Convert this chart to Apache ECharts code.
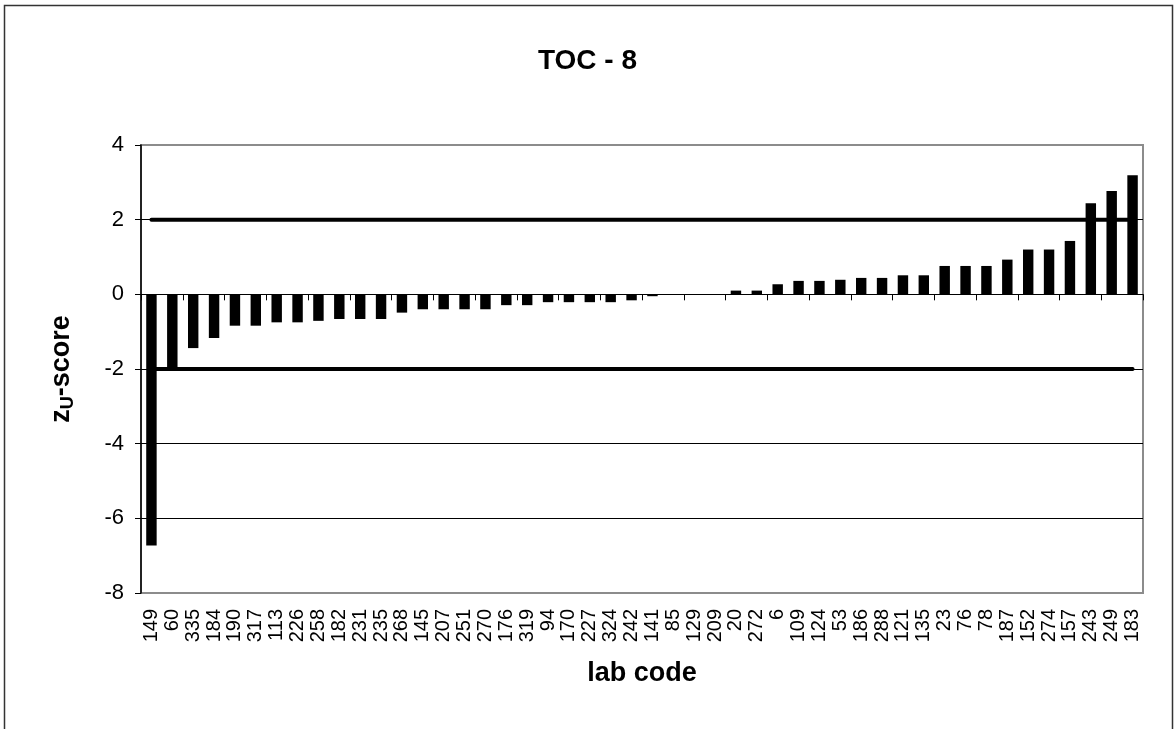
<!DOCTYPE html>
<html>
<head>
<meta charset="utf-8">
<script src="https://cdn.jsdelivr.net/npm/echarts@6/dist/echarts.min.js"></script>
<style>
html,body{margin:0;padding:0;background:#fff;}
#chart{width:1175px;height:729px;}
</style>
</head>
<body>
<div id="chart"></div>
<script>
var title = 'TOC - 8';
var labCodes = ['149','60','335','184','190','317','113','226','258','182','231','235','268','145','207','251','270','176','319','94','170','227','324','242','141','85','129','209','20','272','6','109','124','53','186','288','121','135','23','76','78','187','152','274','157','243','249','183'];
var zScores = [-6.73,-2.0,-1.44,-1.17,-0.84,-0.84,-0.75,-0.75,-0.71,-0.66,-0.66,-0.66,-0.49,-0.40,-0.40,-0.40,-0.40,-0.29,-0.29,-0.21,-0.21,-0.21,-0.21,-0.16,-0.05,0,0,0,0.10,0.10,0.27,0.36,0.36,0.39,0.44,0.44,0.51,0.51,0.76,0.76,0.76,0.93,1.20,1.20,1.43,2.44,2.77,3.19];
var upperLimit = 2;
var lowerLimit = -2;
var yMin = -8, yMax = 4, yStep = 2;
var gridLineValues = [-6, -4, -2, 0, 2];

var FONT = 'Arial, "Liberation Sans", sans-serif';
var chart = echarts.init(document.getElementById('chart'), null, {renderer: 'canvas'});

var option = {
  backgroundColor: '#fff',
  animation: false,
  title: {
    text: title,
    left: 'center',
    top: 42,
    textStyle: {fontFamily: FONT, fontSize: 28, fontWeight: 'bold', color: '#000'}
  },
  graphic: [{
    type: 'rect',
    shape: {x: 4.5, y: 5.5, width: 1168, height: 800},
    style: {fill: null, stroke: '#333', lineWidth: 1.5},
    silent: true
  }],
  grid: {
    left: 141, right: 32, top: 145, bottom: 136,
    show: true, borderColor: '#8c8c8c', borderWidth: 2, backgroundColor: 'transparent'
  },
  xAxis: [{
    type: 'category',
    data: labCodes,
    position: 'bottom',
    axisLine: {onZero: true, lineStyle: {color: '#000', width: 1}},
    axisTick: {show: true, alignWithLabel: false, length: 6, lineStyle: {color: '#000'}},
    axisLabel: {show: false},
    splitLine: {show: false},
    z: 5
  }, {
    type: 'category',
    data: labCodes,
    position: 'bottom',
    axisLine: {show: false, onZero: false},
    axisTick: {show: false},
    axisLabel: {
      show: true, interval: 0, rotate: 90, margin: 16,
      fontFamily: FONT, fontSize: 20, color: '#000'
    },
    name: 'lab code',
    nameLocation: 'middle',
    nameGap: 67,
    nameTextStyle: {fontFamily: FONT, fontSize: 27, fontWeight: 'bold', color: '#000'}
  }],
  yAxis: {
    type: 'value',
    min: yMin, max: yMax, interval: yStep,
    axisLine: {show: true, lineStyle: {color: '#000', width: 1.5}},
    axisTick: {show: true, inside: false, length: 6, lineStyle: {color: '#000'}},
    axisLabel: {fontFamily: FONT, fontSize: 22, color: '#000', margin: 17},
    splitLine: {show: false},
    name: '{a|z}{s|U}{a|-score}',
    nameLocation: 'middle',
    nameGap: 64,
    nameRotate: 90,
    nameTextStyle: {
      rich: {
        a: {fontFamily: FONT, fontSize: 27, fontWeight: 'bold', color: '#000'},
        s: {fontFamily: FONT, fontSize: 18, fontWeight: 'bold', color: '#000', verticalAlign: 'bottom', padding: [12, 0, 0, 0]}
      }
    }
  },
  series: [{
    type: 'bar',
    xAxisIndex: 0,
    data: zScores,
    barWidth: '50%',
    itemStyle: {color: '#000'},
    markLine: {
      silent: true,
      symbol: 'none',
      label: {show: false},
      lineStyle: {color: '#000', width: 1, type: 'solid'},
      data: gridLineValues.map(function (v) { return {yAxis: v}; }),
      z: 1
    },
    z: 3
  }, {
    type: 'line',
    xAxisIndex: 0,
    data: labCodes.map(function () { return upperLimit; }),
    symbol: 'none',
    lineStyle: {color: '#000', width: 4, cap: 'round'},
    z: 4
  }, {
    type: 'line',
    xAxisIndex: 0,
    data: labCodes.map(function () { return lowerLimit; }),
    symbol: 'none',
    lineStyle: {color: '#000', width: 4, cap: 'round'},
    z: 4
  }]
};
chart.setOption(option);
</script>
</body>
</html>
